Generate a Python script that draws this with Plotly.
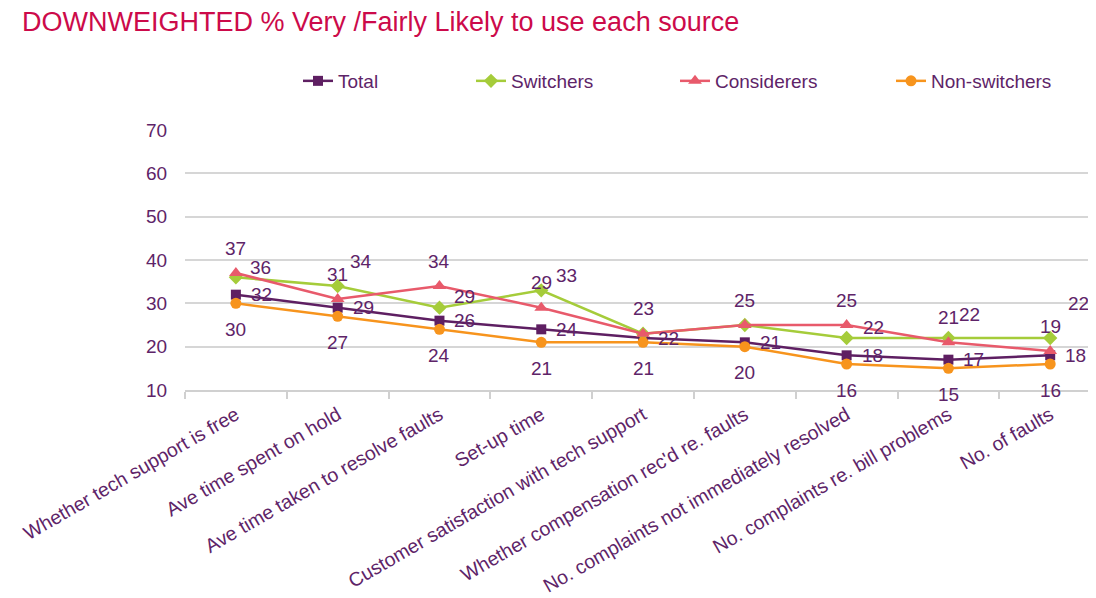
import plotly.graph_objects as go

categories = [
    "Whether tech support is free",
    "Ave time spent on hold",
    "Ave time taken to resolve faults",
    "Set-up time",
    "Customer satisfaction with tech support",
    "Whether compensation rec'd re. faults",
    "No. complaints not immediately resolved",
    "No. complaints re. bill problems",
    "No. of faults",
]
total = [32, 29, 26, 24, 22, 21, 18, 17, 18]
switchers = [36, 34, 29, 33, 23, 25, 22, 22, 22]
considerers = [37, 31, 34, 29, 23, 25, 25, 21, 19]
non_switchers = [30, 27, 24, 21, 21, 20, 16, 15, 16]

# which labels are shown (a couple of switcher labels are hidden in the original)
switchers_label_shown = [True, True, True, True, False, False, True, True, True]

TXT = "#5E2468"
FONT = "Liberation Sans, Arial, sans-serif"

# page body has an 8px margin, so figure is sized/placed accordingly
W, H = 1088, 590

series = [
    ("Total", total, "#5E1F62", "square", 10, "legend", 290),
    ("Switchers", switchers, "#A5CC3A", "diamond", 11, "legend2", 463),
    ("Considerers", considerers, "#E85A6B", "triangle-up", 12, "legend3", 667),
    ("Non-switchers", non_switchers, "#F7941D", "circle", 11, "legend4", 883),
]

fig = go.Figure()
for name, vals, col, sym, ms, lg, _ in series:
    fig.add_trace(go.Scatter(
        x=categories, y=vals, name=name, mode="lines+markers",
        line=dict(color=col, width=2.5),
        marker=dict(symbol=sym, size=ms, color=col),
        legend=lg, hoverinfo="x+y+name",
    ))

# data labels (offsets are styling only)
annotations = []
sw_yshift = [10, 25, 11, 15, 0, 0, 11, 24, 35]
sw_xshift = [12, 10, 13, 13, 0, 0, 14, 9, 16]
for i, c in enumerate(categories):
    annotations.append(dict(x=c, y=total[i], text=str(total[i]), xref="x", yref="y",
                            showarrow=False, xanchor="left", yanchor="middle",
                            xshift=13, yshift=0))
    if switchers_label_shown[i]:
        annotations.append(dict(x=c, y=switchers[i], text=str(switchers[i]), xref="x", yref="y",
                                showarrow=False, xanchor="left", yanchor="middle",
                                xshift=sw_xshift[i], yshift=sw_yshift[i]))
    annotations.append(dict(x=c, y=considerers[i], text=str(considerers[i]), xref="x", yref="y",
                            showarrow=False, xanchor="center", yanchor="middle",
                            xshift=0, yshift=25))
    annotations.append(dict(x=c, y=non_switchers[i], text=str(non_switchers[i]), xref="x", yref="y",
                            showarrow=False, xanchor="center", yanchor="middle",
                            xshift=0, yshift=-26))

layout_legends = {}
for name, vals, col, sym, ms, lg, px in series:
    layout_legends[lg] = dict(
        x=px / W, y=1 - 73 / H, xref="container", yref="container",
        xanchor="left", yanchor="middle", orientation="h",
        font=dict(family=FONT, size=19, color=TXT),
        bgcolor="rgba(0,0,0,0)", borderwidth=0,
    )

fig.update_layout(
    width=W, height=H,
    paper_bgcolor="white", plot_bgcolor="white",
    margin=dict(l=177, r=0, t=122, b=208),
    font=dict(family=FONT, size=19, color=TXT),
    title=dict(text="DOWNWEIGHTED % Very /Fairly Likely to use each source",
               x=14 / W, y=1 - 14 / H, xref="container", yref="container",
               xanchor="left", yanchor="middle",
               font=dict(family=FONT, size=27, color="#CC0A4A")),
    annotations=[dict(a, font=dict(family=FONT, size=19, color=TXT)) for a in annotations],
    showlegend=True,
    **layout_legends,
)
fig.update_xaxes(
    type="category", range=[-0.5, 8.45], tickangle=-30, automargin=False,
    showline=True, linecolor="#D0D0D0", linewidth=2,
    ticks="outside", tickson="boundaries", ticklen=7, tickcolor="#D0D0D0", tickwidth=2,
    ticklabelstandoff=4,
    showgrid=False, tickfont=dict(family=FONT, size=19.5, color=TXT),
)
fig.update_yaxes(
    range=[10, 70], dtick=10, tick0=10, automargin=False,
    showgrid=True, gridcolor="#D6D6D6", gridwidth=2, zeroline=False, showline=False,
    ticks="outside", ticklen=13, tickcolor="rgba(0,0,0,0)",
    tickfont=dict(family=FONT, size=19, color=TXT),
)

fig.write_html("out.html")
